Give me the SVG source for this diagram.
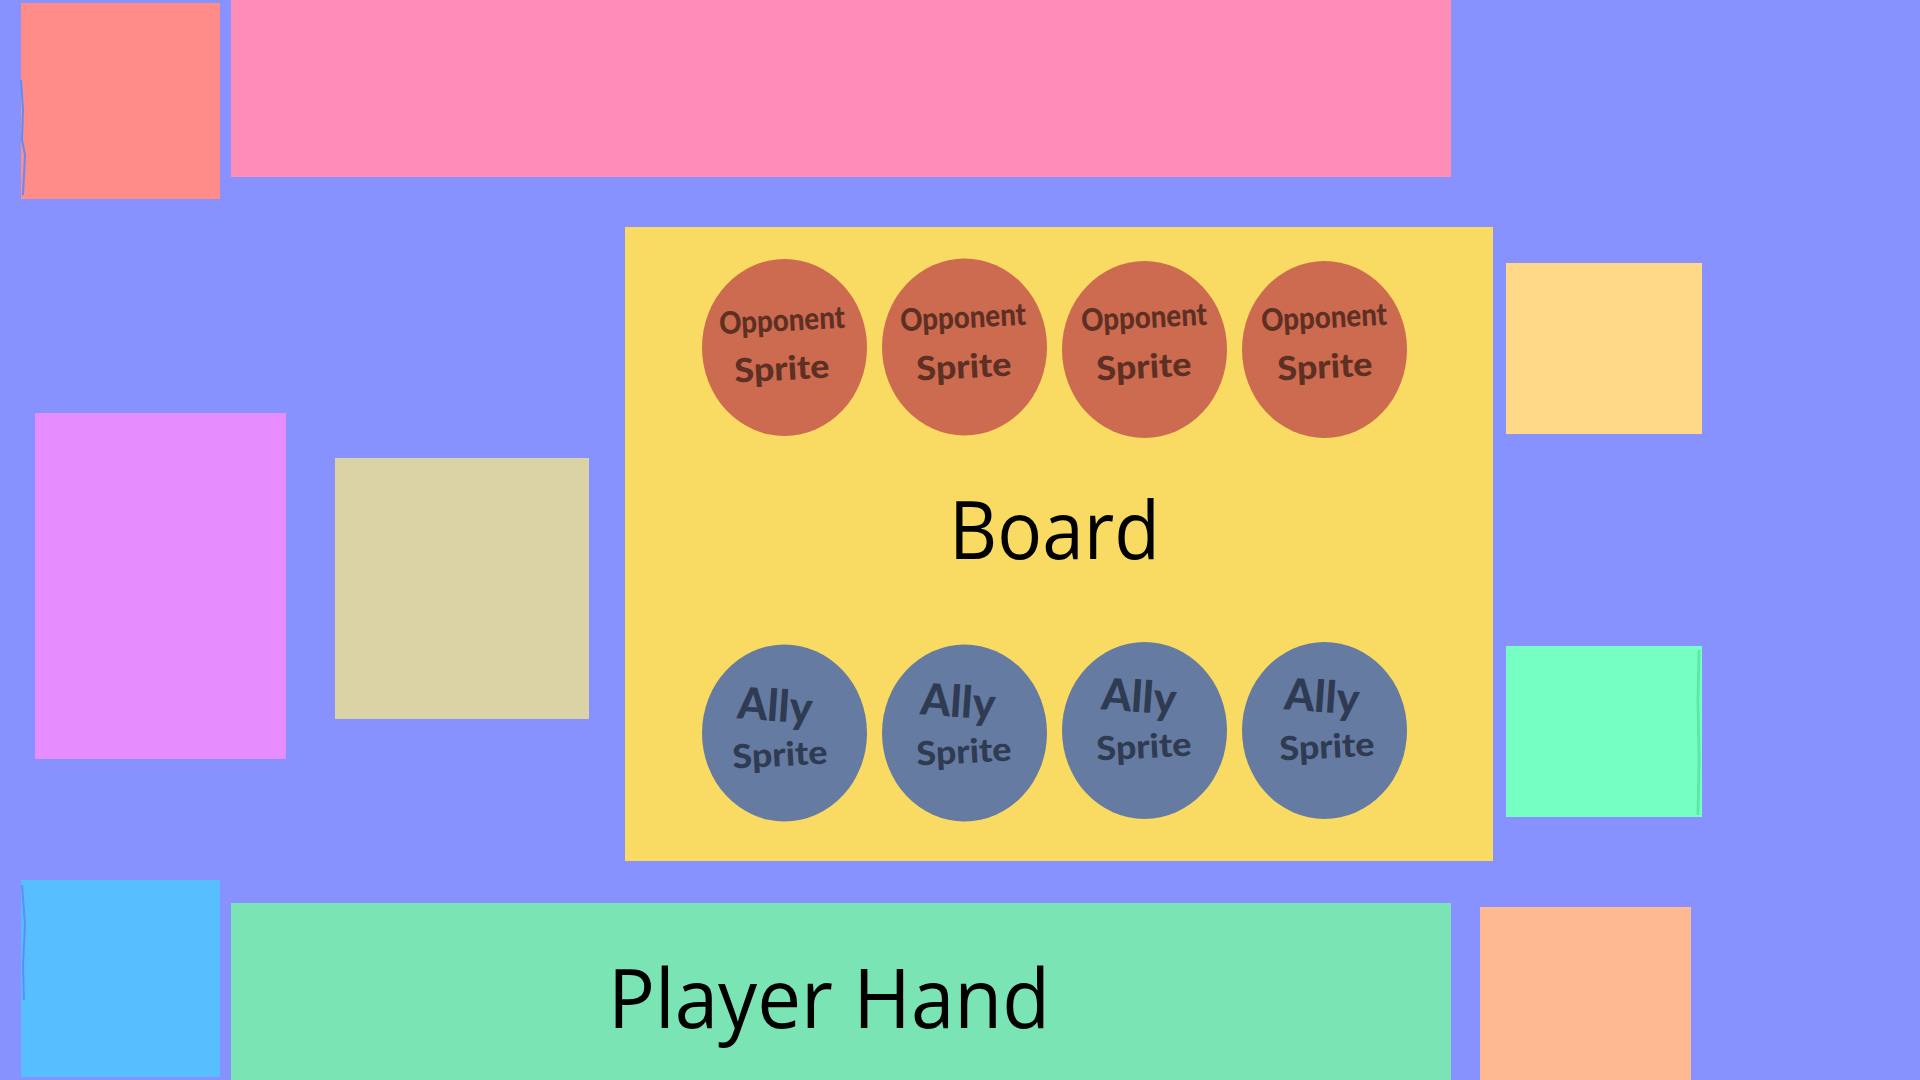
<svg xmlns="http://www.w3.org/2000/svg" width="1920" height="1080" viewBox="0 0 1920 1080">
  <defs>
    <style>
      .label { font-family: "Open Sans", "Noto Sans", "Liberation Sans", sans-serif; fill: #000000; }
      .hand { font-family: "Lato", "Open Sans", "Liberation Sans", sans-serif; font-weight: 900; text-anchor: middle; }
      .opp { fill: #CC6B50; }
      .oppt { fill: #5E3024; }
      .ally { fill: #667BA1; }
      .allyt { fill: #2F3B52; }
    </style>
  </defs>
  <rect x="0" y="0" width="1920" height="1080" fill="#8892FF"/>

  <g id="top-left-box">
    <rect x="21" y="3" width="199" height="196" fill="#FF8C88"/>
    <path d="M21 80 L23 110 L22 140 L25 155 L23 195" stroke="#5E8CFF" stroke-width="2" fill="none"/>
  </g>
  <g id="top-bar">
    <rect x="231" y="0" width="1220" height="177" fill="#FF8DB8"/>
  </g>
  <g id="left-panel">
    <rect x="35" y="413" width="251" height="346" fill="#E88DFF"/>
  </g>
  <g id="deck">
    <rect x="335" y="458" width="254" height="261" fill="#DBD3A5"/>
  </g>
  <g id="right-top-box">
    <rect x="1506" y="263" width="196" height="171" fill="#FFD888"/>
  </g>
  <g id="right-mid-box">
    <rect x="1506" y="646" width="196" height="171" fill="#76FFC2"/>
    <path d="M1699 650 L1698 700 L1699 760 L1698 815" stroke="#5EE8A8" stroke-width="3" fill="none"/>
  </g>
  <g id="bottom-left-box">
    <rect x="21" y="880" width="199" height="197" fill="#57BEFF"/>
    <path d="M22 885 L25 925 L23 965 L24 1000" stroke="#5E8CFF" stroke-width="2" fill="none"/>
  </g>
  <g id="player-hand">
    <rect x="231" y="903" width="1220" height="177" fill="#7BE4B4"/>
    <text class="label" x="608" y="1028" font-size="83" textLength="442" lengthAdjust="spacingAndGlyphs">Player Hand</text>
  </g>
  <g id="bottom-right-box">
    <rect x="1480" y="907" width="211" height="173" fill="#FFB992"/>
  </g>

  <g id="board">
    <rect x="625" y="227" width="868" height="634" fill="#F9DA62"/>
    <text class="label" x="949" y="559" font-size="80" textLength="211" lengthAdjust="spacingAndGlyphs">Board</text>
  </g>

  <g id="opponent-1">
    <ellipse class="opp" cx="784.5" cy="347.5" rx="82.5" ry="88.5"/>
    <text class="hand oppt" x="782" y="331" font-size="31" textLength="126" lengthAdjust="spacingAndGlyphs" transform="rotate(-3 782 320)">Opponent</text>
    <text class="hand oppt" x="782" y="380" font-size="33" textLength="95" lengthAdjust="spacingAndGlyphs" transform="rotate(-3 782 370)">Sprite</text>
  </g>
  <g id="opponent-2">
    <ellipse class="opp" cx="964.5" cy="347" rx="82.5" ry="88.5"/>
    <text class="hand oppt" x="963" y="328" font-size="31" textLength="126" lengthAdjust="spacingAndGlyphs" transform="rotate(-3 963 317)">Opponent</text>
    <text class="hand oppt" x="964" y="378" font-size="33" textLength="95" lengthAdjust="spacingAndGlyphs" transform="rotate(-3 964 368)">Sprite</text>
  </g>
  <g id="opponent-3">
    <ellipse class="opp" cx="1144.5" cy="349.5" rx="82.5" ry="88.5"/>
    <text class="hand oppt" x="1144" y="328" font-size="31" textLength="126" lengthAdjust="spacingAndGlyphs" transform="rotate(-3 1144 317)">Opponent</text>
    <text class="hand oppt" x="1144" y="378" font-size="33" textLength="95" lengthAdjust="spacingAndGlyphs" transform="rotate(-3 1144 368)">Sprite</text>
  </g>
  <g id="opponent-4">
    <ellipse class="opp" cx="1324.5" cy="349.5" rx="82.5" ry="88.5"/>
    <text class="hand oppt" x="1324" y="328" font-size="31" textLength="126" lengthAdjust="spacingAndGlyphs" transform="rotate(-3 1324 317)">Opponent</text>
    <text class="hand oppt" x="1325" y="378" font-size="33" textLength="95" lengthAdjust="spacingAndGlyphs" transform="rotate(-3 1325 368)">Sprite</text>
  </g>

  <g id="ally-1">
    <ellipse class="ally" cx="784.5" cy="733" rx="82.5" ry="88.5"/>
    <text class="hand allyt" x="775" y="721" font-size="44" textLength="75" lengthAdjust="spacingAndGlyphs" transform="rotate(4 775 705)">Ally</text>
    <text class="hand allyt" x="780" y="766" font-size="33" textLength="95" lengthAdjust="spacingAndGlyphs" transform="rotate(-3 780 756)">Sprite</text>
  </g>
  <g id="ally-2">
    <ellipse class="ally" cx="964.5" cy="733" rx="82.5" ry="88.5"/>
    <text class="hand allyt" x="958" y="717" font-size="44" textLength="75" lengthAdjust="spacingAndGlyphs" transform="rotate(4 958 701)">Ally</text>
    <text class="hand allyt" x="964" y="763" font-size="33" textLength="95" lengthAdjust="spacingAndGlyphs" transform="rotate(-3 964 753)">Sprite</text>
  </g>
  <g id="ally-3">
    <ellipse class="ally" cx="1144.5" cy="730.5" rx="82.5" ry="88.5"/>
    <text class="hand allyt" x="1139" y="712" font-size="44" textLength="75" lengthAdjust="spacingAndGlyphs" transform="rotate(4 1139 696)">Ally</text>
    <text class="hand allyt" x="1144" y="758" font-size="33" textLength="95" lengthAdjust="spacingAndGlyphs" transform="rotate(-3 1144 748)">Sprite</text>
  </g>
  <g id="ally-4">
    <ellipse class="ally" cx="1324.5" cy="730.5" rx="82.5" ry="88.5"/>
    <text class="hand allyt" x="1322" y="712" font-size="44" textLength="75" lengthAdjust="spacingAndGlyphs" transform="rotate(4 1322 696)">Ally</text>
    <text class="hand allyt" x="1327" y="758" font-size="33" textLength="95" lengthAdjust="spacingAndGlyphs" transform="rotate(-3 1327 748)">Sprite</text>
  </g>

  <g id="connectors"></g>
</svg>
